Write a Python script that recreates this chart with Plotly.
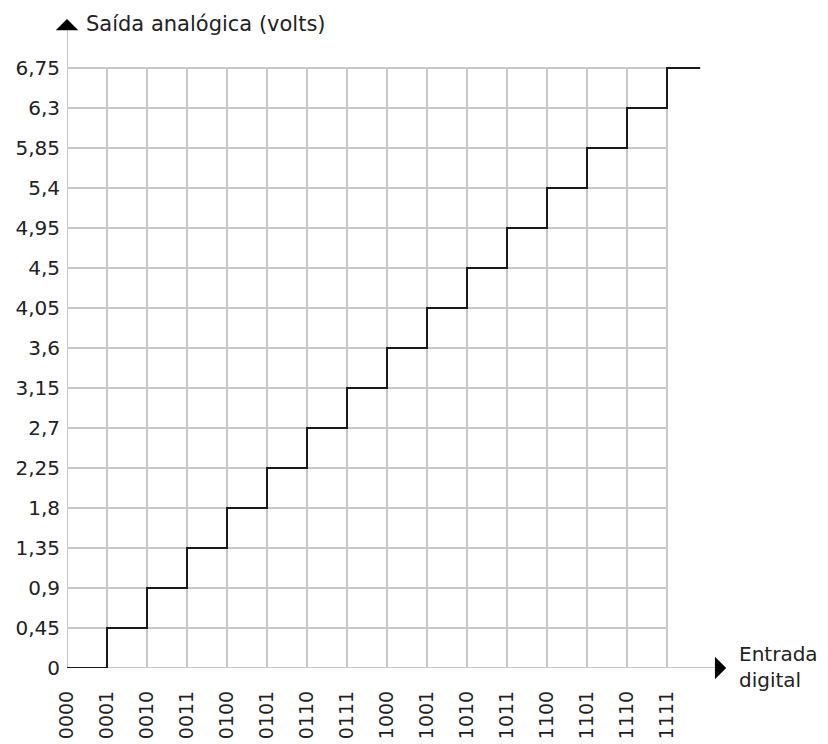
import plotly.graph_objects as go

# ---- data ----
codes = ["0000", "0001", "0010", "0011", "0100", "0101", "0110", "0111",
         "1000", "1001", "1010", "1011", "1100", "1101", "1110", "1111"]
levels = [0, 0.45, 0.9, 1.35, 1.8, 2.25, 2.7, 3.15,
          3.6, 4.05, 4.5, 4.95, 5.4, 5.85, 6.3, 6.75]
y_tick_labels = ["0", "0,45", "0,9", "1,35", "1,8", "2,25", "2,7", "3,15",
                 "3,6", "4,05", "4,5", "4,95", "5,4", "5,85", "6,3", "6,75"]
y_title = "Saída analógica (volts)"
x_title = "Entrada<br>digital"

# ---- layout constants ----
last_step_end = 15.83
x_arrow_tip = 16.48
y_arrow_tip = 7.3
x_max = 17.5
y_max = 7.425
GRID = "#c9c9c9"
FONT = "DejaVu Sans"
TXT = "#222222"

xi = list(range(len(codes)))
fig = go.Figure()

# grid lines (shapes below the data)
shapes = []
for i in xi:
    shapes.append(dict(type="line", xref="x", yref="y", x0=i, x1=i,
                       y0=levels[0], y1=levels[-1], layer="below",
                       line=dict(color=GRID, width=2)))
for v in levels:
    shapes.append(dict(type="line", xref="x", yref="y", x0=xi[0], x1=xi[-1],
                       y0=v, y1=v, layer="below",
                       line=dict(color=GRID, width=2)))
# axis lines
shapes.append(dict(type="line", xref="x", yref="y", x0=0, x1=x_arrow_tip - 0.25,
                   y0=0, y1=0, layer="below", line=dict(color=GRID, width=2)))
shapes.append(dict(type="line", xref="x", yref="y", x0=0, x1=0,
                   y0=0, y1=y_arrow_tip - 0.08, layer="below",
                   line=dict(color=GRID, width=2)))

# staircase
fig.add_trace(go.Scatter(
    x=xi + [last_step_end], y=levels + [levels[-1]],
    mode="lines", line=dict(color="#1a1a1a", width=2, shape="hv"),
    hoverinfo="skip", showlegend=False))

annotations = [
    # arrow heads
    dict(x=x_arrow_tip, y=0, xref="x", yref="y", ax=-12, ay=0, text="",
         showarrow=True, arrowhead=1, arrowsize=2.5, arrowwidth=1.5,
         arrowcolor="#000000"),
    dict(x=0, y=y_arrow_tip, xref="x", yref="y", ax=0, ay=12, text="",
         showarrow=True, arrowhead=1, arrowsize=2.5, arrowwidth=1.5,
         arrowcolor="#000000"),
    # axis titles
    dict(x=0, y=y_arrow_tip, xref="x", yref="y", xanchor="left",
         yanchor="middle", xshift=17, yshift=-5, text=y_title, showarrow=False,
         font=dict(family=FONT, size=21, color=TXT)),
    dict(x=x_arrow_tip, y=0, xref="x", yref="y", xanchor="left",
         yanchor="middle", xshift=11, yshift=1, text=x_title, showarrow=False,
         align="left", font=dict(family=FONT, size=20, color=TXT)),
]

fig.update_layout(
    width=828, height=744,
    margin=dict(l=59, r=828 - 59 - int(40 * x_max), t=0, b=84, pad=0),
    paper_bgcolor="white", plot_bgcolor="white",
    shapes=shapes, annotations=annotations,
    font=dict(family=FONT, size=19, color=TXT),
    xaxis=dict(range=[0, x_max], tickvals=xi, ticktext=codes, tickangle=-90,
               showgrid=False, zeroline=False, showline=False, ticks="",
               ticklabelstandoff=18, fixedrange=True,
               tickfont=dict(family=FONT, size=19, color=TXT)),
    yaxis=dict(range=[0, y_max], tickvals=levels, ticktext=y_tick_labels,
               showgrid=False, zeroline=False, showline=False, ticks="",
               ticklabelstandoff=6, fixedrange=True,
               tickfont=dict(family=FONT, size=20, color=TXT)),
)

fig.write_html("out.html")
